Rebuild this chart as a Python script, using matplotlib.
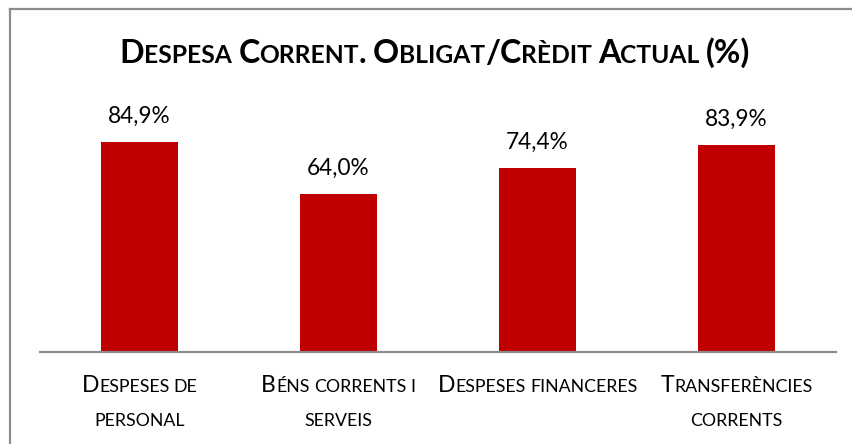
import matplotlib
matplotlib.use("Agg")
import matplotlib.pyplot as plt
from matplotlib.offsetbox import TextArea, HPacker, VPacker, AnnotationBbox
from matplotlib.font_manager import FontProperties
from matplotlib.lines import Line2D

# ---- data ----
categories = ["Despeses de\npersonal", "Béns corrents i\nserveis",
              "Despeses financeres", "Transferències\ncorrents"]
values = [84.9, 64.0, 74.4, 83.9]
title = "Despesa Corrent. Obligat/Crèdit Actual (%)"

FAMILY = "Lato"
BAR_COLOR = "#C00000"
DPI = 100
W, H = 852, 444

fig = plt.figure(figsize=(W / DPI, H / DPI), dpi=DPI)
renderer = fig.canvas.get_renderer()


def space_pts(size, weight):
    fp = FontProperties(family=FAMILY, size=size, weight=weight)
    w1 = renderer.get_text_width_height_descent("x x", fp, ismath=False)[0]
    w2 = renderer.get_text_width_height_descent("xx", fp, ismath=False)[0]
    return (w1 - w2) * 72.0 / DPI


def smallcaps_line(s, big, small, weight="normal", color="black"):
    words = []
    for word in s.split(" "):
        runs = []
        cur, cur_low = "", None
        for ch in word:
            low = ch.islower()
            if cur_low is None or low == cur_low:
                cur += ch
                cur_low = low
            else:
                runs.append((cur, cur_low))
                cur, cur_low = ch, low
        if cur:
            runs.append((cur, cur_low))
        children = []
        for txt, low in runs:
            children.append(TextArea(txt.upper() if low else txt,
                                     textprops=dict(family=FAMILY, weight=weight,
                                                    size=small if low else big,
                                                    color=color)))
        words.append(HPacker(children=children, align="baseline", pad=0, sep=0))
    return HPacker(children=words, align="baseline", pad=0,
                   sep=space_pts(small, weight))


# axes placement in pixels
ax_left, ax_right = 40, 836
ax_bottom_px, ax_top_px = 352, 105
ax = fig.add_axes([ax_left / W, (H - ax_bottom_px) / H,
                   (ax_right - ax_left) / W, (ax_bottom_px - ax_top_px) / H])

x = list(range(len(values)))
ax.bar(x, values, width=0.39, color=BAR_COLOR, zorder=2)
ax.set_xlim(-0.5, len(values) - 0.5)
ax.set_ylim(0, 100)
for sp in ["top", "right", "left"]:
    ax.spines[sp].set_visible(False)
ax.spines["bottom"].set_color("#8C8C8C")
ax.spines["bottom"].set_linewidth(1.6)
ax.set_xticks([])
ax.set_yticks([])
ax.patch.set_alpha(0)

for xi, v in zip(x, values):
    ax.annotate(f"{v:.1f}%".replace(".", ","), xy=(xi, v), xytext=(0, 13.7),
                textcoords="offset points", ha="center", va="baseline",
                family=FAMILY, fontsize=16.3, color="black")

for xi, cat in zip(x, categories):
    lines = [smallcaps_line(l, 16.5, 12.8) for l in cat.split("\n")]
    box = VPacker(children=lines, align="center", pad=0, sep=12.5)
    ab = AnnotationBbox(box, (xi, 0), xybox=(0, -16.5), boxcoords="offset points",
                        box_alignment=(0.5, 1), frameon=False, pad=0,
                        annotation_clip=False)
    ax.add_artist(ab)

# title
tbox = smallcaps_line(title, 23.2, 17.7, weight="bold")
tab = AnnotationBbox(tbox, (435 / W, (H - 62) / H), xycoords="figure fraction",
                     box_alignment=(0.5, 0.2), frameon=False, pad=0)
fig.add_artist(tab)

# chart frame
frame_color = "#8C8C8C"
fig.add_artist(Line2D([10 / W, 1.0], [(H - 9) / H, (H - 9) / H],
                      transform=fig.transFigure, color=frame_color, lw=1.6))
fig.add_artist(Line2D([10 / W, 10 / W], [0, (H - 9) / H],
                      transform=fig.transFigure, color=frame_color, lw=1.6))

fig.savefig("out.png", dpi=DPI)
